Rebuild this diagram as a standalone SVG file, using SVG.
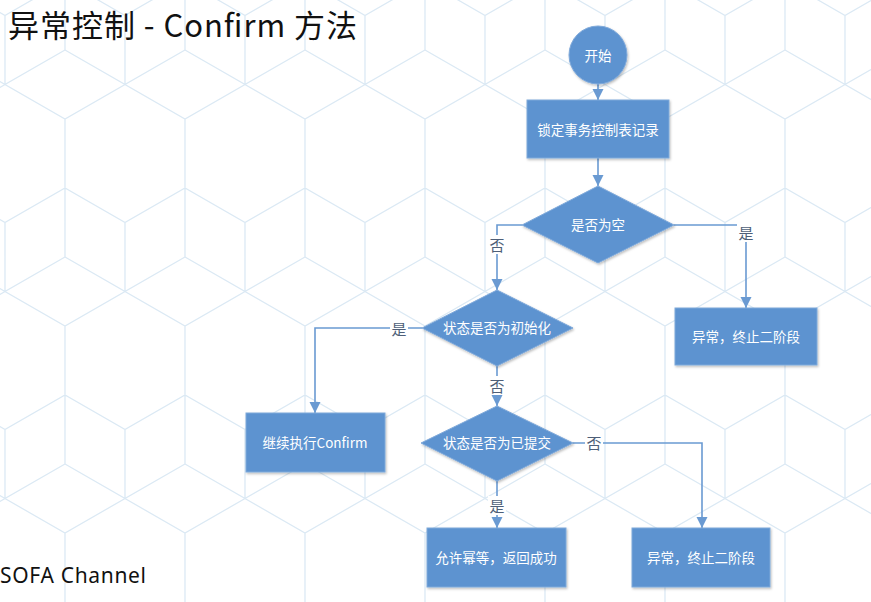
<svg xmlns="http://www.w3.org/2000/svg" width="871" height="602" viewBox="0 0 871 602">
  <style>
    .node { fill: #5d93d0; stroke: #7fa9da; stroke-width: 1; }
    .ntext { font-family: "Noto Sans CJK SC", "Noto Sans", sans-serif; font-size: 13.5px; fill: #ffffff; text-anchor: middle; dominant-baseline: central; }
    .edge { fill: none; stroke: #6a9ad2; stroke-width: 1.6; }
    .lbl { font-family: "Noto Sans CJK SC", sans-serif; font-size: 15px; fill: #4e5f78; text-anchor: middle; dominant-baseline: central; }
    .lblbg { fill: #ffffff; }
    .bg { fill: none; stroke: #dbe9f4; stroke-width: 1.3; }
  </style>
  <defs>
    <marker id="arrow" viewBox="0 0 10 10" refX="10" refY="5" markerWidth="7" markerHeight="7" orient="auto" markerUnits="strokeWidth">
      <path d="M0,0 L10,5 L0,10 z" fill="#6a9ad2"/>
    </marker>
    <pattern id="hex" width="120" height="207" patternUnits="userSpaceOnUse" patternTransform="translate(5,-19)">
      <path class="bg" d="M60,0 L120,34.5 L120,103.5 L60,138 L0,103.5 L0,34.5 Z M60,138 V207 M60,69 L60,0 M60,69 L0,103.5 M60,69 L120,103.5"/>
    </pattern>
    <filter id="sh" x="-10%" y="-10%" width="130%" height="130%">
      <feDropShadow dx="1" dy="1.5" stdDeviation="1.2" flood-color="#000" flood-opacity="0.25"/>
    </filter>
  </defs>

  <rect x="0" y="0" width="871" height="602" fill="#ffffff"/>
  <rect x="0" y="0" width="871" height="602" fill="url(#hex)"/>

  <text x="8" y="37" font-family="Noto Sans CJK SC, Noto Sans, sans-serif" font-size="31" font-weight="400" fill="#111111" textLength="349" lengthAdjust="spacing">异常控制 - Confirm 方法</text>
  <text x="0" y="583" font-family="Noto Sans, DejaVu Sans, sans-serif" font-size="21" fill="#111111" textLength="146" lengthAdjust="spacing">SOFA Channel</text>

  <g id="connectors">
    <path class="edge" d="M598,84 V100" marker-end="url(#arrow)"/>
    <path class="edge" d="M598,158 V186" marker-end="url(#arrow)"/>
    <path class="edge" d="M522,225 H497 V290" marker-end="url(#arrow)"/>
    <path class="edge" d="M674,225 H746 V308" marker-end="url(#arrow)"/>
    <path class="edge" d="M422,328 H315 V413" marker-end="url(#arrow)"/>
    <path class="edge" d="M497,365 V406" marker-end="url(#arrow)"/>
    <path class="edge" d="M573,443 H702 V528" marker-end="url(#arrow)"/>
    <path class="edge" d="M497,481 V528" marker-end="url(#arrow)"/>
    <rect class="lblbg" x="488" y="235" width="18" height="19"/>
    <text class="lbl" x="497" y="244">否</text>
    <rect class="lblbg" x="737" y="223" width="18" height="19"/>
    <text class="lbl" x="746" y="232">是</text>
    <rect class="lblbg" x="390" y="319" width="18" height="19"/>
    <text class="lbl" x="399" y="328">是</text>
    <rect class="lblbg" x="488" y="376" width="18" height="19"/>
    <text class="lbl" x="497" y="385">否</text>
    <rect class="lblbg" x="585" y="433" width="18" height="19"/>
    <text class="lbl" x="594" y="442">否</text>
    <rect class="lblbg" x="488" y="496" width="18" height="19"/>
    <text class="lbl" x="497" y="505">是</text>
  </g>

  <g id="start">
    <circle class="node" cx="598" cy="55" r="29" filter="url(#sh)"/>
    <text class="ntext" x="598" y="55">开始</text>
  </g>
  <g id="lock">
    <rect class="node" x="527" y="100" width="142" height="58" filter="url(#sh)"/>
    <text class="ntext" x="598" y="129">锁定事务控制表记录</text>
  </g>
  <g id="isEmpty">
    <polygon class="node" points="598,186 674,225 598,263 522,225" filter="url(#sh)"/>
    <text class="ntext" x="598" y="224">是否为空</text>
  </g>
  <g id="abort1">
    <rect class="node" x="675" y="308" width="142" height="57" filter="url(#sh)"/>
    <text class="ntext" x="746" y="336">异常，终止二阶段</text>
  </g>
  <g id="isInit">
    <polygon class="node" points="497,290 573,328 497,366 422,328" filter="url(#sh)"/>
    <text class="ntext" x="497" y="327">状态是否为初始化</text>
  </g>
  <g id="continue">
    <rect class="node" x="246" y="413" width="139" height="59" filter="url(#sh)"/>
    <text class="ntext" x="315" y="442">继续执行Confirm</text>
  </g>
  <g id="isCommitted">
    <polygon class="node" points="497,406 573,443 497,481 421,443" filter="url(#sh)"/>
    <text class="ntext" x="497" y="442">状态是否为已提交</text>
  </g>
  <g id="idempotent">
    <rect class="node" x="427" y="528" width="139" height="59" filter="url(#sh)"/>
    <text class="ntext" x="496" y="557">允许幂等，返回成功</text>
  </g>
  <g id="abort2">
    <rect class="node" x="632" y="528" width="138" height="59" filter="url(#sh)"/>
    <text class="ntext" x="701" y="557">异常，终止二阶段</text>
  </g>
</svg>
